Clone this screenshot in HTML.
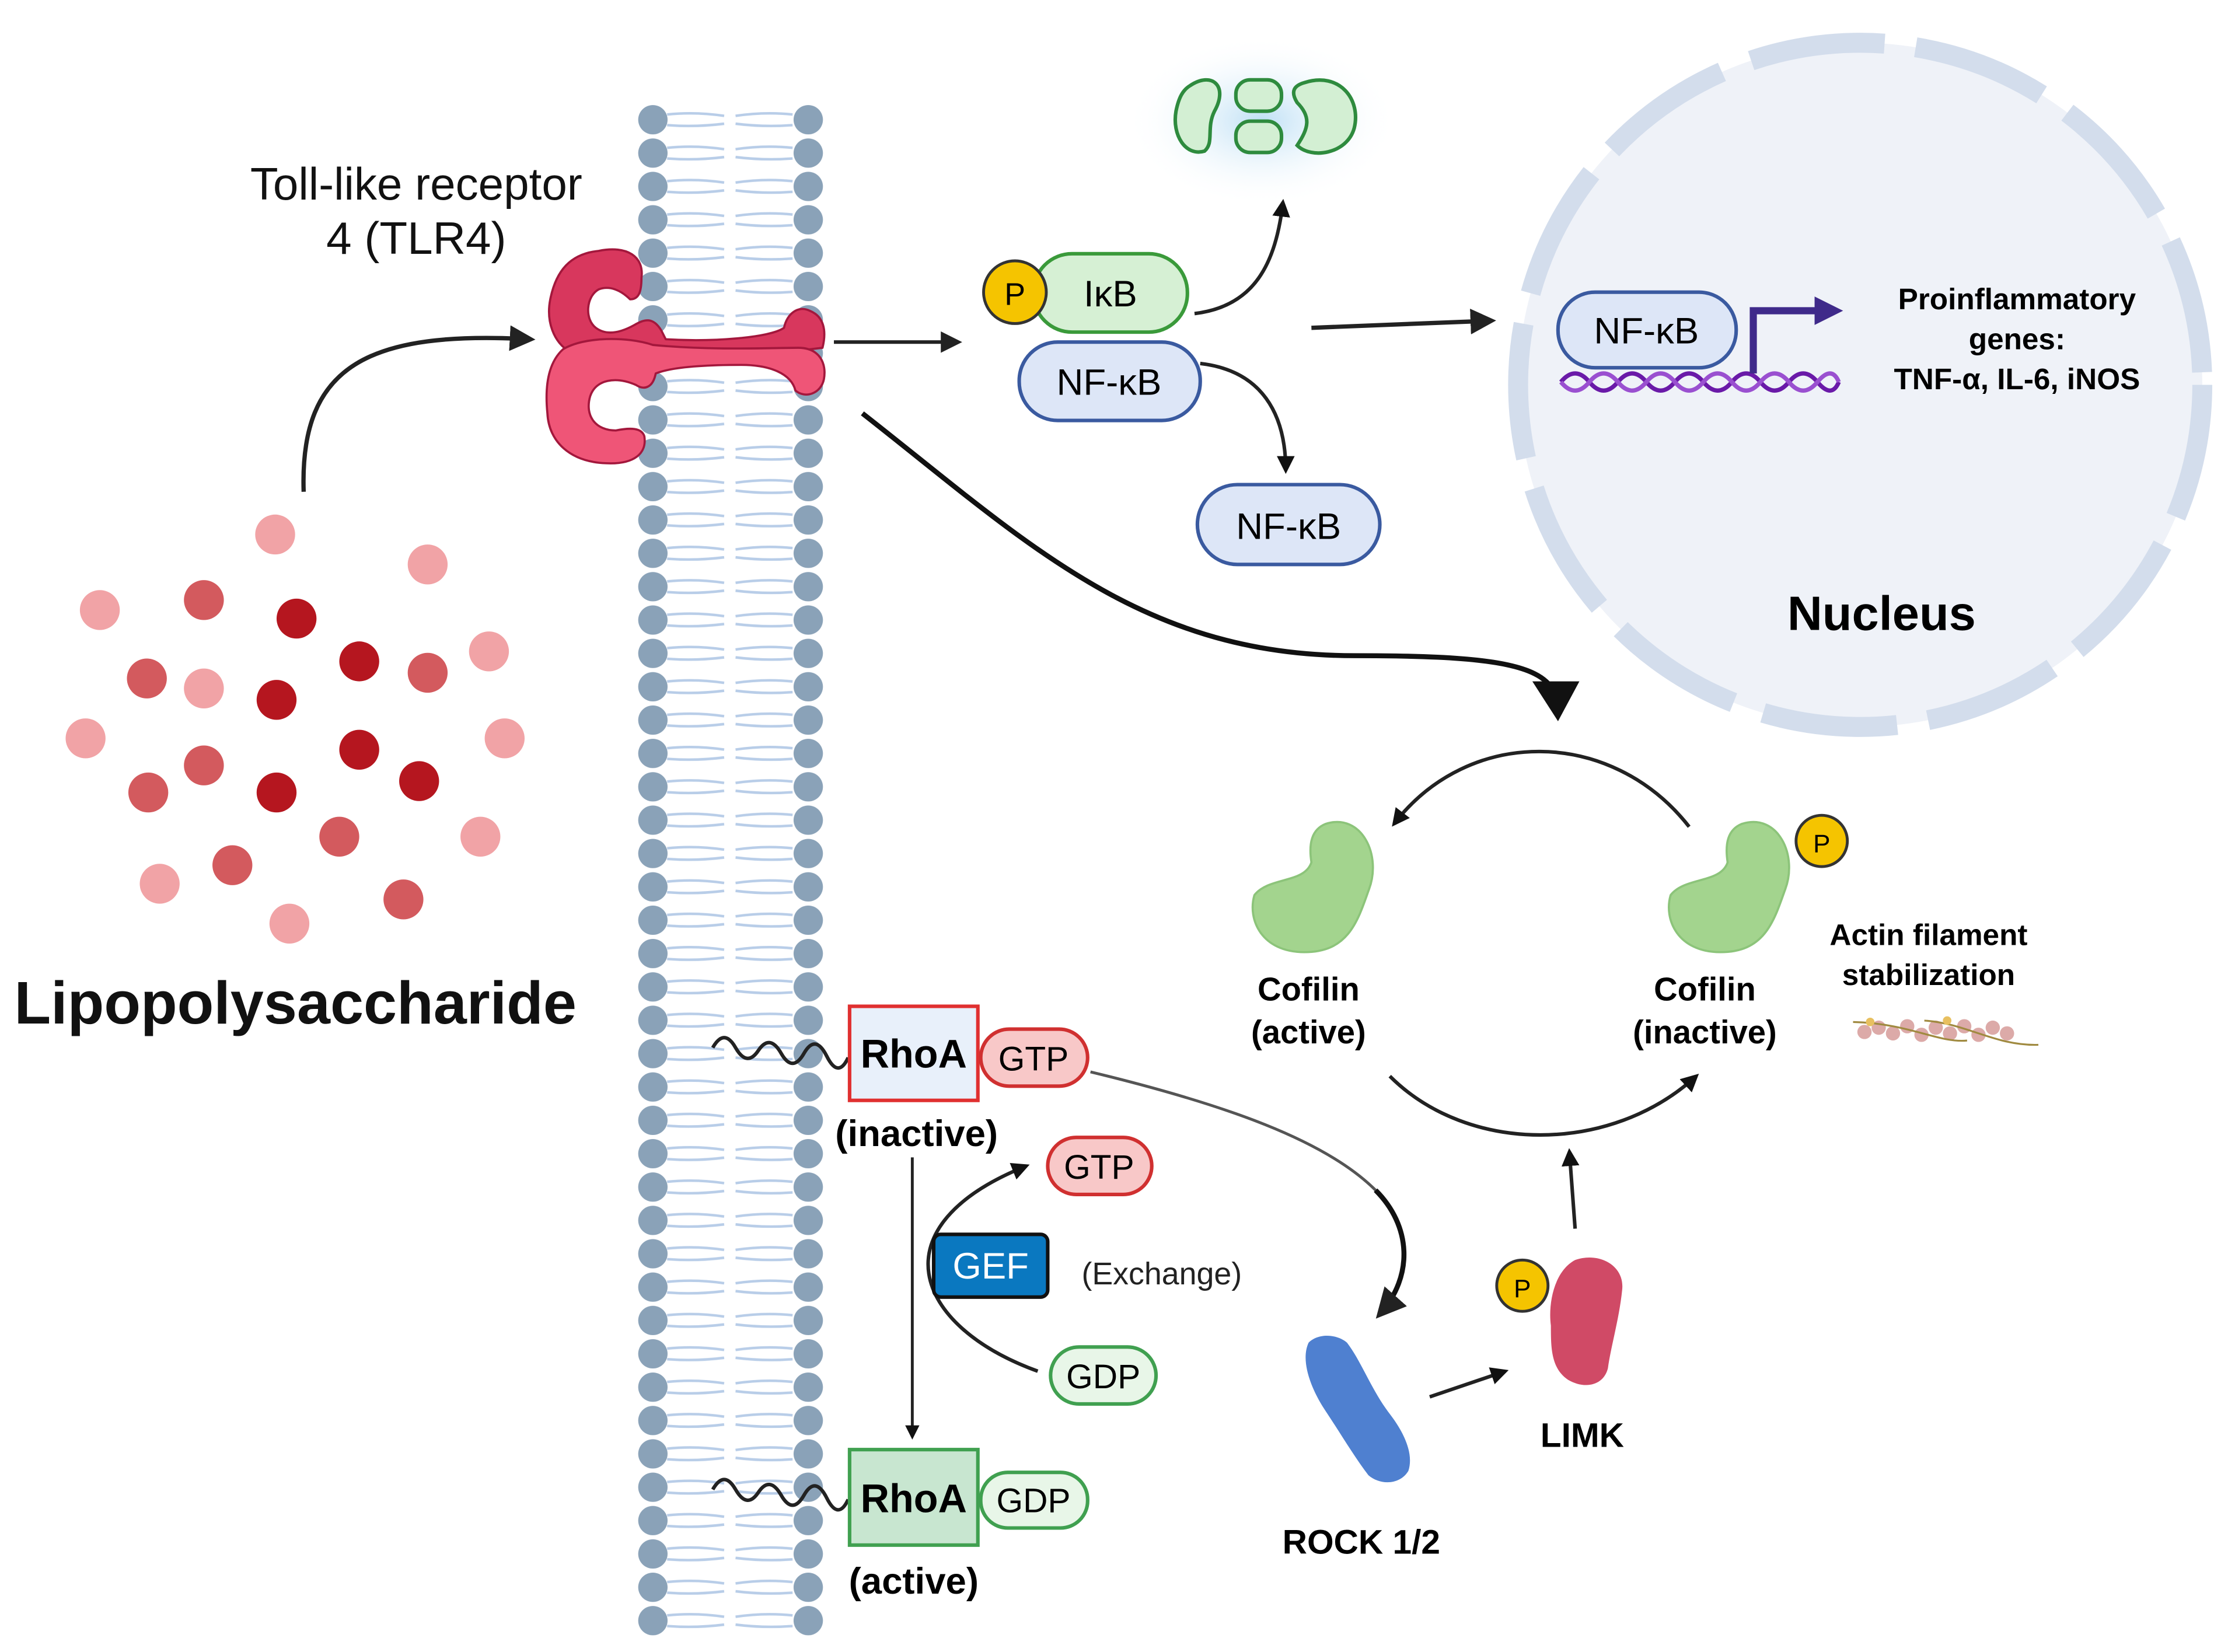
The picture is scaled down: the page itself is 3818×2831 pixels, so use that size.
<!DOCTYPE html>
<html><head><meta charset="utf-8"><style>
html,body{margin:0;padding:0;background:#fff;}
svg{display:block;}
text{font-family:"Liberation Sans",sans-serif;}
</style></head><body>
<svg width="3818" height="2831" viewBox="0 0 1563 1159" xmlns="http://www.w3.org/2000/svg">
<defs>
<marker id="ah" viewBox="0 0 10 10" refX="8" refY="5" markerWidth="6" markerHeight="6" orient="auto"><path d="M0,0 L10,5 L0,10 z" fill="#222"/></marker>
<marker id="ahb" viewBox="0 0 10 10" refX="8" refY="5" markerWidth="5" markerHeight="5" orient="auto"><path d="M0,0 L10,5 L0,10 z" fill="#111"/></marker>
<marker id="ahp" viewBox="0 0 10 10" refX="6" refY="5" markerWidth="4" markerHeight="4" orient="auto"><path d="M0,0 L10,5 L0,10 z" fill="#3f2a8a"/></marker>
<radialGradient id="glow"><stop offset="0" stop-color="#bfe0f5"/><stop offset="1" stop-color="#fff" stop-opacity="0"/></radialGradient>
<pattern id="mem" x="446" y="72.3" width="132" height="23.4" patternUnits="userSpaceOnUse">
<path d="M22,8 Q42,6 62,9 M22,15.5 Q42,17 62,14.5 M70,9 Q90,6 110,8 M70,14.5 Q90,17 110,15.5" stroke="#b8cde8" stroke-width="1.8" fill="none"/>
<circle cx="12" cy="11.7" r="10.3" fill="#8aa2b8"/>
<circle cx="121" cy="11.7" r="10.3" fill="#8aa2b8"/>
</pattern>
</defs>

<!-- membrane -->
<rect x="446" y="72.3" width="132" height="1076" fill="url(#mem)"/>

<!-- LPS -->
<g fill="#f1a3a6">
<circle cx="193" cy="375" r="14"/><circle cx="300" cy="396" r="14"/><circle cx="70" cy="428" r="14"/><circle cx="143" cy="483" r="14"/><circle cx="343" cy="457" r="14"/><circle cx="60" cy="518" r="14"/><circle cx="354" cy="518" r="14"/><circle cx="337" cy="587" r="14"/><circle cx="112" cy="620" r="14"/><circle cx="203" cy="648" r="14"/>
</g>
<g fill="#d35a5e">
<circle cx="143" cy="421" r="14"/><circle cx="103" cy="476" r="14"/><circle cx="300" cy="472" r="14"/><circle cx="143" cy="537" r="14"/><circle cx="104" cy="556" r="14"/><circle cx="238" cy="587" r="14"/><circle cx="163" cy="607" r="14"/><circle cx="283" cy="631" r="14"/>
</g>
<g fill="#b5161f">
<circle cx="208" cy="434" r="14"/><circle cx="252" cy="464" r="14"/><circle cx="194" cy="491" r="14"/><circle cx="252" cy="526" r="14"/><circle cx="294" cy="548" r="14"/><circle cx="194" cy="556" r="14"/>
</g>
<text x="10" y="718" font-size="42" font-weight="bold" fill="#111">Lipopolysaccharide</text>

<path d="M213,345 C210,255 260,232 372,238" stroke="#222" stroke-width="3" fill="none" marker-end="url(#ah)"/>
<text x="292" y="140" font-size="32" text-anchor="middle" fill="#111">Toll-like receptor</text>
<text x="292" y="178" font-size="32" text-anchor="middle" fill="#111">4 (TLR4)</text>

<!-- TLR4 -->
<g stroke="#a3173c" stroke-width="1.5" stroke-linejoin="round">
<path fill="#d8375d" d="M420,176 C440,172 452,180 450,195 C450,205 448,210 442,210 C436,204 428,200 420,203 C411,208 410,224 418,230 C426,236 436,233 445,228 C452,224 458,222 464,232 L467,238 C500,240 540,237 550,230 C552,220 560,214 568,218 C578,222 580,232 577,244 L560,246 C520,244 490,244 470,246 L440,248 L400,247 C388,240 383,225 386,210 C390,190 400,178 420,176Z"/>
<path fill="#ef5577" d="M395,245 C410,236 440,236 458,242 C500,246 540,244 560,244 C575,244 580,255 578,266 C576,276 565,280 558,274 C555,262 540,256 520,256 C490,256 470,258 460,262 C458,272 452,274 446,270 C432,264 418,266 414,278 C410,292 418,302 432,302 C442,300 450,300 452,306 C454,318 445,326 425,325 C400,324 385,310 384,290 C382,270 385,254 395,245Z"/>
</g>

<path d="M585,240 L672,240" stroke="#222" stroke-width="2.5" marker-end="url(#ah)"/>

<!-- IkB / NFkB -->
<rect x="725" y="178" width="108" height="55" rx="27" fill="#d6f0d4" stroke="#3a9a3a" stroke-width="2.5"/>
<text x="779" y="215" font-size="26" text-anchor="middle">IκB</text>
<circle cx="712" cy="205" r="22" fill="#f5c400" stroke="#333" stroke-width="2"/>
<text x="712" y="214" font-size="22" text-anchor="middle">P</text>
<rect x="715" y="240" width="127" height="55" rx="27" fill="#dde6f7" stroke="#3a5aa0" stroke-width="2.5"/>
<text x="778" y="277" font-size="26" text-anchor="middle">NF-κB</text>
<path d="M838,220 C880,215 895,185 900,142" stroke="#222" stroke-width="2.5" fill="none" marker-end="url(#ahb)"/>
<path d="M842,255 C885,260 902,290 902,330" stroke="#222" stroke-width="2.5" fill="none" marker-end="url(#ahb)"/>
<rect x="840" y="340" width="128" height="56" rx="28" fill="#dde6f7" stroke="#3a5aa0" stroke-width="2.5"/>
<text x="904" y="378" font-size="26" text-anchor="middle">NF-κB</text>

<!-- proteasome fragments -->
<ellipse cx="885" cy="85" rx="95" ry="60" fill="url(#glow)"/>
<g fill="#d3efd3" stroke="#2e8b3e" stroke-width="2.5">
<path d="M835,60 C850,50 862,60 852,78 C846,90 852,100 845,106 C832,110 822,95 825,78 C827,68 830,63 835,60Z"/>
<rect x="867" y="56" width="32" height="22" rx="10"/>
<rect x="867" y="85" width="32" height="22" rx="10"/>
<path d="M915,58 C940,50 955,70 950,90 C945,108 920,112 910,102 C918,90 920,82 910,72 C905,64 908,60 915,58Z"/>
</g>

<path d="M920,230 L1046,225" stroke="#222" stroke-width="3" marker-end="url(#ah)"/>

<!-- Nucleus -->
<circle cx="1305" cy="270" r="240" fill="#eff2f8" stroke="#d3ddec" stroke-width="14" stroke-dasharray="95 22"/>
<rect x="1093" y="205" width="125" height="53" rx="26" fill="#dde6f7" stroke="#3a5aa0" stroke-width="2.5"/>
<text x="1155" y="241" font-size="26" text-anchor="middle">NF-κB</text>
<path d="M1095,268 q10,-12 20,0 t20,0 t20,0 t20,0 t20,0 t20,0 t20,0 t20,0 t20,0 t15,0" stroke="#6a1aa8" stroke-width="3" fill="none"/>
<path d="M1095,268 q10,12 20,0 t20,0 t20,0 t20,0 t20,0 t20,0 t20,0 t20,0 t20,0 t15,0" stroke="#9a50d0" stroke-width="3" fill="none"/>
<path d="M1230,262 L1230,218 L1285,218" stroke="#3f2a8a" stroke-width="5" fill="none" marker-end="url(#ahp)"/>
<text x="1415" y="217" font-size="21" font-weight="bold" text-anchor="middle">Proinflammatory</text>
<text x="1415" y="245" font-size="21" font-weight="bold" text-anchor="middle">genes:</text>
<text x="1415" y="273" font-size="21" font-weight="bold" text-anchor="middle">TNF-α, IL-6, iNOS</text>
<text x="1320" y="442" font-size="34" font-weight="bold" text-anchor="middle">Nucleus</text>

<path d="M605,290 C720,380 800,460 950,460 C1040,460 1080,465 1090,485" stroke="#111" stroke-width="3.5" fill="none"/>
<path d="M1075,478 L1108,478 L1093,506 Z" fill="#111"/>

<!-- cofilin cycle -->
<path d="M1185,580 C1130,510 1030,510 978,578" stroke="#222" stroke-width="2.5" fill="none" marker-end="url(#ahb)"/>
<path d="M975,755 C1030,810 1130,810 1190,755" stroke="#222" stroke-width="2.5" fill="none" marker-end="url(#ahb)"/>
<g fill="#a3d48e" stroke="#8cc47a" stroke-width="1.5">
<path d="M930,578 C955,570 970,600 960,625 C952,648 945,668 915,668 C885,668 875,645 880,628 C890,615 915,620 920,605 C918,592 920,582 930,578Z"/>
<path d="M1222,578 C1247,570 1262,600 1252,625 C1244,648 1237,668 1207,668 C1177,668 1167,645 1172,628 C1182,615 1207,620 1212,605 C1210,592 1212,582 1222,578Z"/>
</g>
<circle cx="1278" cy="590" r="18" fill="#f5c400" stroke="#333" stroke-width="2"/>
<text x="1278" y="598" font-size="18" text-anchor="middle">P</text>
<g font-size="23" font-weight="bold" text-anchor="middle">
<text x="918" y="702">Cofilin</text><text x="918" y="732">(active)</text>
<text x="1196" y="702">Cofilin</text><text x="1196" y="732">(inactive)</text>
<text x="1353" y="663" font-size="21">Actin filament</text><text x="1353" y="691" font-size="21">stabilization</text>
</g>
<g fill="#dcaaa8">
<circle cx="1308" cy="724" r="5"/><circle cx="1318" cy="721" r="5"/><circle cx="1328" cy="725" r="5"/><circle cx="1338" cy="720" r="5"/><circle cx="1348" cy="726" r="5"/><circle cx="1358" cy="721" r="5"/><circle cx="1368" cy="725" r="5"/><circle cx="1378" cy="720" r="5"/><circle cx="1388" cy="726" r="5"/><circle cx="1398" cy="721" r="5"/><circle cx="1408" cy="725" r="5"/>
</g>
<path d="M1300,717 C1340,718 1360,732 1380,730 M1350,716 C1380,718 1400,734 1430,733" stroke="#a08a40" stroke-width="1.3" fill="none"/>
<circle cx="1312" cy="717" r="3" fill="#e8c060"/><circle cx="1366" cy="716" r="3" fill="#e8c060"/>

<!-- LIMK / ROCK -->
<path d="M1105,862 L1101,808" stroke="#222" stroke-width="2.5" marker-end="url(#ahb)"/>
<path d="M1105,884 C1122,878 1140,888 1138,905 C1136,925 1130,945 1128,960 C1125,972 1112,975 1100,968 C1088,960 1088,945 1088,930 C1086,915 1090,892 1105,884Z" fill="#d04a66"/>
<circle cx="1068" cy="902" r="18" fill="#f5c400" stroke="#333" stroke-width="2"/>
<text x="1068" y="910" font-size="18" text-anchor="middle">P</text>
<text x="1110" y="1015" font-size="24" font-weight="bold" text-anchor="middle">LIMK</text>
<path d="M918,942 C925,935 938,936 945,942 C955,955 962,975 975,992 C985,1005 992,1020 988,1032 C982,1042 968,1042 960,1035 C950,1022 940,1005 930,990 C920,975 912,955 918,942Z" fill="#4f80d0"/>
<path d="M1003,980 L1056,962" stroke="#222" stroke-width="2.5" marker-end="url(#ahb)"/>
<text x="955" y="1090" font-size="24" font-weight="bold" text-anchor="middle">ROCK 1/2</text>

<!-- RhoA inactive -->
<path d="M500,735 q8,-14 16,0 t16,2 t16,2 t16,0 t16,2 t15,1" stroke="#222" stroke-width="2.5" fill="none"/>
<rect x="596" y="706" width="90" height="66" fill="#e8f0fa" stroke="#e03030" stroke-width="2.5"/>
<text x="641" y="749" font-size="28" font-weight="bold" text-anchor="middle">RhoA</text>
<rect x="688" y="722" width="75" height="40" rx="20" fill="#f8c8c8" stroke="#d03030" stroke-width="2.5"/>
<text x="725" y="751" font-size="24" text-anchor="middle">GTP</text>
<text x="643" y="804" font-size="26" font-weight="bold" text-anchor="middle">(inactive)</text>
<path d="M765,752 C860,775 930,800 965,835" stroke="#555" stroke-width="2" fill="none"/>
<path d="M965,835 C990,860 992,895 968,922" stroke="#111" stroke-width="3.5" fill="none" marker-end="url(#ah)"/>

<path d="M640,812 L640,1008" stroke="#222" stroke-width="2" marker-end="url(#ahb)"/>
<rect x="735" y="798" width="73" height="40" rx="20" fill="#f8c8c8" stroke="#d03030" stroke-width="2.5"/>
<text x="771" y="827" font-size="24" text-anchor="middle">GTP</text>
<rect x="737" y="945" width="74" height="40" rx="20" fill="#e8f6e8" stroke="#40a050" stroke-width="2.5"/>
<text x="774" y="974" font-size="24" text-anchor="middle">GDP</text>
<path d="M728,962 C640,930 615,860 720,818" stroke="#222" stroke-width="2.5" fill="none" marker-end="url(#ahb)"/>
<rect x="655" y="866" width="80" height="44" rx="5" fill="#0a78c0" stroke="#111" stroke-width="2.5"/>
<text x="695" y="897" font-size="26" fill="#fff" text-anchor="middle">GEF</text>
<text x="815" y="901" font-size="22" text-anchor="middle" fill="#222">(Exchange)</text>

<!-- RhoA active -->
<path d="M500,1045 q8,-14 16,0 t16,2 t16,2 t16,0 t16,2 t15,1" stroke="#222" stroke-width="2.5" fill="none"/>
<rect x="596" y="1017" width="90" height="67" fill="#c8e6d0" stroke="#40a050" stroke-width="2.5"/>
<text x="641" y="1061" font-size="28" font-weight="bold" text-anchor="middle">RhoA</text>
<rect x="688" y="1033" width="75" height="39" rx="19" fill="#e8f6e8" stroke="#40a050" stroke-width="2.5"/>
<text x="725" y="1061" font-size="24" text-anchor="middle">GDP</text>
<text x="641" y="1118" font-size="26" font-weight="bold" text-anchor="middle">(active)</text>
</svg>
</body></html>
